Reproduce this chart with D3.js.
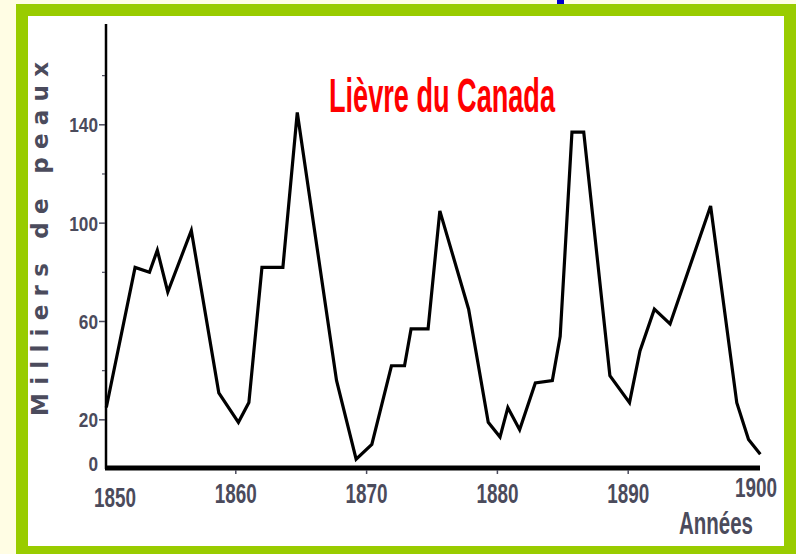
<!DOCTYPE html>
<html>
<head>
<meta charset="utf-8">
<script src="https://cdn.jsdelivr.net/npm/d3@7"></script>
<style>
  html, body { margin: 0; padding: 0; background: #fffde4; }
  svg { display: block; }
</style>
</head>
<body>
<script>
// Lièvre du Canada - milliers de peaux, 1850-1900
const years = [1850.1, 1852.3, 1853.4, 1854.0, 1854.8, 1856.6, 1858.7, 1860.2, 1861.0, 1862.0,
  1863.6, 1864.7, 1867.7, 1869.2, 1870.4, 1871.9, 1872.9, 1873.4, 1874.7, 1875.6,
  1877.8, 1879.3, 1880.2, 1880.8, 1881.7, 1882.9, 1884.2, 1884.8, 1885.7, 1886.6,
  1888.6, 1890.1, 1890.9, 1892.0, 1893.2, 1896.3, 1898.3, 1899.2, 1900.1];
const skins = [25, 82, 80, 89, 72, 97, 31, 19, 27, 82,
  82, 145, 36, 4, 10, 42, 42, 57, 57, 105,
  65, 19, 13, 25, 16, 35, 36, 54, 137, 137,
  38, 27, 48, 65, 59, 107, 27, 12, 6];

const xTicks = [1850, 1860, 1870, 1880, 1890, 1900];
const yTicks = [0, 20, 60, 100, 140];
const yMinor = [40, 80, 120, 160];

const title = 'Lièvre du Canada';
const yTitle = 'Milliers de peaux';
const xTitle = 'Années';

const width = 796;
const height = 554;
const labelColor = '#4b4b5c';
const narrow = '"Liberation Sans Narrow", "Arial Narrow", "Liberation Sans", sans-serif';

let svg = d3.select('body').append('svg')
  .attr('width', width)
  .attr('height', height);

// frame
svg.append('rect')
  .attr('x', 0).attr('y', 0)
  .attr('width', width).attr('height', height)
  .attr('fill', '#fffde4');
svg.append('rect')
  .attr('x', 557).attr('y', 0)
  .attr('width', 7).attr('height', 5)
  .attr('fill', '#0000cc');
svg.append('rect')
  .attr('x', 16).attr('y', 4)
  .attr('width', 780).attr('height', 550)
  .attr('fill', '#99cc00');
svg.append('rect')
  .attr('x', 28).attr('y', 16)
  .attr('width', 756).attr('height', 530)
  .attr('fill', '#ffffff');

let x = d3.scaleLinear().domain([1850, 1900]).range([105, 759]);
let y = d3.scaleLinear().domain([0, 181]).range([469, 24]);

let g = svg.append('g');

// y axis line + ticks
g.append('line')
  .attr('x1', x(1850) + 1).attr('x2', x(1850) + 1)
  .attr('y1', y(181)).attr('y2', y(0))
  .attr('stroke', '#000').attr('stroke-width', 2.5);

g.selectAll('.ymajor')
  .data(yTicks.filter(d => d > 0))
  .enter().append('line')
  .attr('class', 'ymajor')
  .attr('x1', x(1850) - 6).attr('x2', x(1850))
  .attr('y1', d => y(d)).attr('y2', d => y(d))
  .attr('stroke', labelColor).attr('stroke-width', 1.5);

g.selectAll('.yminor')
  .data(yMinor)
  .enter().append('line')
  .attr('class', 'yminor')
  .attr('x1', x(1850) - 3).attr('x2', x(1850))
  .attr('y1', d => y(d)).attr('y2', d => y(d))
  .attr('stroke', labelColor).attr('stroke-width', 1.2);

g.selectAll('.ylab')
  .data(yTicks)
  .enter().append('text')
  .attr('class', 'ylab')
  .attr('transform', d => 'translate(' + (x(1850) - 7) + ',' + (d === 0 ? y(d) - 6 : y(d)) + ') scale(0.82,1)')
  .attr('dy', '0.36em')
  .attr('text-anchor', 'end')
  .attr('font-family', narrow)
  .attr('font-weight', 'bold')
  .attr('font-size', 21)
  .attr('fill', labelColor)
  .text(d => d);

// x axis (thick scanned baseline)
g.append('line')
  .attr('x1', x(1850)).attr('x2', x(1900) + 1)
  .attr('y1', y(0) - 1).attr('y2', y(0) - 1)
  .attr('stroke', '#000').attr('stroke-width', 5);

g.selectAll('.xtick')
  .data(xTicks.slice(1, -1))
  .enter().append('line')
  .attr('class', 'xtick')
  .attr('x1', d => x(d)).attr('x2', d => x(d))
  .attr('y1', y(0) + 1).attr('y2', y(0) + 5)
  .attr('stroke', labelColor).attr('stroke-width', 1.5);

g.selectAll('.xlab')
  .data(xTicks)
  .enter().append('text')
  .attr('class', 'xlab')
  .attr('transform', d => {
    let lx = d === 1850 ? x(d) + 10 : d === 1900 ? x(d) - 3 : x(d);
    let ly = d === 1850 ? 507 : d === 1900 ? 497 : 503;
    return 'translate(' + lx + ',' + ly + ') scale(0.7,1)';
  })
  .attr('text-anchor', 'middle')
  .attr('font-family', narrow)
  .attr('font-weight', 'bold')
  .attr('font-size', 27)
  .attr('fill', labelColor)
  .text(d => d);

g.append('text')
  .attr('x', 716)
  .attr('y', 534)
  .attr('text-anchor', 'middle')
  .attr('font-family', narrow)
  .attr('font-weight', 'bold')
  .attr('font-size', 32)
  .attr('fill', labelColor)
  .attr('textLength', 74)
  .attr('lengthAdjust', 'spacingAndGlyphs')
  .text(xTitle);

g.append('text')
  .attr('transform', 'translate(48,239) rotate(-90)')
  .attr('text-anchor', 'middle')
  .attr('font-family', '"DejaVu Sans", sans-serif')
  .attr('font-weight', 'bold')
  .attr('font-size', 23)
  .attr('fill', labelColor)
  .attr('textLength', 354)
  .attr('lengthAdjust', 'spacing')
  .text(yTitle);

// title
svg.append('text')
  .attr('x', 442)
  .attr('y', 112)
  .attr('text-anchor', 'middle')
  .attr('font-family', narrow)
  .attr('font-weight', 'bold')
  .attr('font-size', 49)
  .attr('fill', '#ff0000')
  .attr('textLength', 226)
  .attr('lengthAdjust', 'spacingAndGlyphs')
  .text(title);

// series
let points = years.map((d, i) => [d, skins[i]]);
let line = d3.line()
  .x(d => x(d[0]))
  .y(d => y(d[1]));

g.append('path')
  .datum(points)
  .attr('d', line)
  .attr('fill', 'none')
  .attr('stroke', '#000')
  .attr('stroke-width', 3.2)
  .attr('stroke-linejoin', 'miter');
</script>
</body>
</html>
